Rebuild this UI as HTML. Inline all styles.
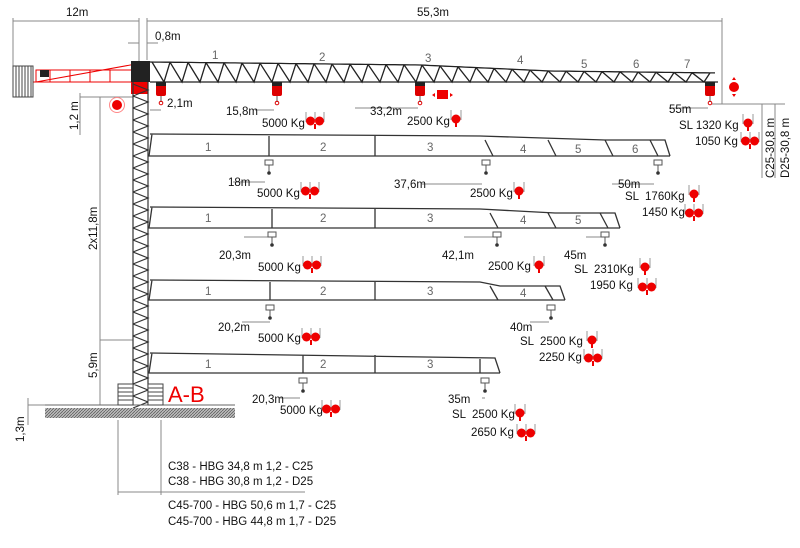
<!DOCTYPE html>
<html><head><meta charset="utf-8"><style>
html,body{margin:0;padding:0;background:#fff;width:800px;height:548px;overflow:hidden}
svg{display:block}
text{font-family:"Liberation Sans",sans-serif;font-size:11.5px;fill:#111}
.g{fill:#666}
</style></head><body>
<svg id="s" width="800" height="548" viewBox="0 0 800 548" xmlns="http://www.w3.org/2000/svg">
<defs>
<pattern id="h" width="3" height="3" patternUnits="userSpaceOnUse"><rect width="3" height="3" fill="#bbb"/><path d="M0 3L3 0" stroke="#555" stroke-width="0.7"/></pattern>
<g id="ld1"><path d="M-5 -8V2M5 -8V2" stroke="#999" fill="none"/><circle cx="0" cy="1" r="4.5" fill="#e00"/><path d="M0 4V9" stroke="#e00" stroke-width="2"/></g>
<g id="ld2"><path d="M-9 -8V2M9 -8V2M0 -8V0" stroke="#999" fill="none"/><circle cx="-4.5" cy="1" r="4.5" fill="#e00"/><circle cx="4.5" cy="1" r="4.5" fill="#e00"/><path d="M0 4V9" stroke="#e00" stroke-width="2"/></g>
<g id="hk"><path d="M-4 0h8v5h-8z M0 5v8" stroke="#555" fill="#fff"/><circle cx="0" cy="13" r="1.8" fill="#333"/></g>
<g id="rk"><rect x="-5" y="0" width="10" height="14" rx="2" fill="#d00"/><rect x="-5" y="0" width="10" height="4" fill="#222"/><path d="M0 14v6" stroke="#555"/><circle cx="0" cy="21" r="1.8" fill="none" stroke="#d00"/></g>
</defs>
<g stroke="#888" stroke-width="1" fill="none">
<path d="M13 21H139M147 21H722M13 18V70M139 18V70M147 18V60M722 18V104"/>
<path d="M128 43H139M147 43H158M712 104H785M762 104V178M775 104V178"/>
<path d="M100 97V405M80 93V135M80 97H133M100 340H133M80 405H118M28 405H45M28 398V425M118 420V495M161 420V495M118 492H305"/>
<path d="M150 110H161M255 110H274M355 108H418M233 182H265M422 184H482M612 184H654M244 237H271M464 237H497M586 237H603M242 322H270M530 322H549M280 398H300M482 398H485"/>
<path d="M669 108H708"/>
</g>
<text x="66" y="16">12m</text><text x="417" y="16">55,3m</text><text x="155" y="40">0,8m</text>
<g id="cj" stroke="#e00" fill="none" stroke-width="1">
<rect x="36" y="70" width="98" height="12"/><path d="M36 82L136 64M50 70v12M70 70v12M90 70v12M110 70v12M30 82H135"/>
</g>
<rect x="13" y="66" width="20" height="31" fill="#fff" stroke="#444"/>
<path d="M16 66v31M19 66v31M22 66v31M25 66v31M28 66v31M31 66v31" stroke="#444"/>
<rect x="40" y="70" width="9" height="7" fill="#222"/>
<rect x="131" y="61" width="19" height="21" fill="#222"/><rect x="131" y="82" width="17" height="12" fill="#e00"/>
<g id="truss" stroke="#222" stroke-width="1.3" fill="none"></g>
<g id="mast" stroke="#333" stroke-width="1.2" fill="none"></g>
<circle cx="117" cy="105" r="5" fill="#e00"/><circle cx="117" cy="105" r="7.5" fill="none" stroke="#f88"/>
<use href="#rk" x="161" y="82"/><use href="#rk" x="277" y="82"/><use href="#rk" x="420" y="82"/><use href="#rk" x="710" y="82"/>
<rect x="437" y="90" width="11" height="9" fill="#e00"/><path d="M432 95l3-2v4zM453 95l-3-2v4z" fill="#e00"/>
<circle cx="734" cy="87" r="5" fill="#e00"/><path d="M734 77l-2 3h4zM734 97l-2-3h4z" fill="#e00"/>
<text x="167" y="107">2,1m</text><text x="226" y="115">15,8m</text><text x="262" y="127">5000 Kg</text><use href="#ld2" x="315" y="120"/>
<text x="370" y="115">33,2m</text><text x="407" y="125">2500 Kg</text><use href="#ld1" x="456" y="118"/>
<text x="669" y="113">55m</text><text x="679" y="129">SL 1320 Kg</text><use href="#ld1" x="748" y="122"/>
<text x="695" y="145">1050 Kg</text><use href="#ld2" x="750" y="140"/>
<text transform="translate(774,178) rotate(-90)">C25-30,8 m</text><text transform="translate(789,178) rotate(-90)">D25-30,8 m</text>
<text transform="translate(78,130) rotate(-90)">1,2 m</text><text transform="translate(97,250) rotate(-90)">2x11,8m</text>
<text transform="translate(97,378) rotate(-90)">5,9m</text><text transform="translate(24,442) rotate(-90)">1,3m</text>
<g id="jibs" stroke="#333" stroke-width="1.3" fill="none"></g>
<g class="g">
<text class="g" x="205" y="151">1</text><text class="g" x="320" y="151">2</text><text class="g" x="427" y="151">3</text><text class="g" x="520" y="153">4</text><text class="g" x="575" y="153">5</text><text class="g" x="632" y="153">6</text>
<text class="g" x="205" y="222">1</text><text class="g" x="320" y="222">2</text><text class="g" x="427" y="222">3</text><text class="g" x="520" y="224">4</text><text class="g" x="575" y="224">5</text>
<text class="g" x="205" y="295">1</text><text class="g" x="320" y="295">2</text><text class="g" x="427" y="295">3</text><text class="g" x="520" y="297">4</text>
<text class="g" x="205" y="368">1</text><text class="g" x="320" y="368">2</text><text class="g" x="427" y="368">3</text>
<text class="g" x="212" y="59">1</text><text class="g" x="319" y="61">2</text><text class="g" x="425" y="62">3</text><text class="g" x="517" y="64">4</text><text class="g" x="581" y="68">5</text><text class="g" x="633" y="68">6</text><text class="g" x="684" y="68">7</text>
</g>
<use href="#hk" x="269" y="160"/><use href="#hk" x="486" y="160"/><use href="#hk" x="658" y="160"/>
<use href="#hk" x="272" y="232"/><use href="#hk" x="497" y="232"/><use href="#hk" x="605" y="232"/>
<use href="#hk" x="270" y="305"/><use href="#hk" x="551" y="305"/>
<use href="#hk" x="303" y="378"/><use href="#hk" x="485" y="378"/>
<text x="228" y="186">18m</text><text x="257" y="197">5000 Kg</text><use href="#ld2" x="310" y="190"/>
<text x="394" y="188">37,6m</text><text x="470" y="197">2500 Kg</text><use href="#ld1" x="519" y="190"/>
<text x="618" y="188">50m</text><text x="625" y="200">SL &#160;1760Kg</text><use href="#ld1" x="694" y="193"/>
<text x="642" y="216">1450 Kg</text><use href="#ld2" x="694" y="212"/>
<text x="219" y="259">20,3m</text><text x="258" y="271">5000 Kg</text><use href="#ld2" x="312" y="264"/>
<text x="442" y="259">42,1m</text><text x="488" y="270">2500 Kg</text><use href="#ld1" x="539" y="264"/>
<text x="564" y="259">45m</text><text x="574" y="273">SL &#160;2310Kg</text><use href="#ld1" x="645" y="266"/>
<text x="590" y="289">1950 Kg</text><use href="#ld2" x="647" y="286"/>
<text x="218" y="331">20,2m</text><text x="258" y="342">5000 Kg</text><use href="#ld2" x="311" y="336"/>
<text x="510" y="331">40m</text><text x="520" y="345">SL &#160;2500 Kg</text><use href="#ld1" x="592" y="339"/>
<text x="539" y="361">2250 Kg</text><use href="#ld2" x="593" y="357"/>
<text x="252" y="403">20,3m</text><text x="280" y="414">5000 Kg</text><use href="#ld2" x="331" y="408"/>
<text x="448" y="403">35m</text><text x="452" y="418">SL &#160;2500 Kg</text><use href="#ld1" x="520" y="412"/>
<text x="471" y="436">2650 Kg</text><use href="#ld2" x="526" y="432"/>
<line x1="45" y1="405" x2="235" y2="405" stroke="#666"/>
<rect x="45" y="408" width="190" height="10" fill="url(#h)"/>
<g stroke="#444" fill="#fff"><rect x="118" y="384" width="15" height="21"/><rect x="148" y="384" width="15" height="21"/><path d="M118 388h15M118 392h15M118 396h15M118 400h15M148 388h15M148 392h15M148 396h15M148 400h15" fill="none"/></g>
<text x="168" y="402" style="font-size:22px;fill:#e00">A-B</text>
<text x="168" y="470">C38 - HBG 34,8 m 1,2 - C25</text>
<text x="168" y="485">C38 - HBG 30,8 m 1,2 - D25</text>
<text x="168" y="509">C45-700 - HBG 50,6 m 1,7 - C25</text>
<text x="168" y="525">C45-700 - HBG 44,8 m 1,7 - D25</text>
</svg>
<script>
var NS="http://www.w3.org/2000/svg";
function P(g,d){var p=document.createElementNS(NS,"path");p.setAttribute("d",d);document.getElementById(g).appendChild(p);}
function ty(x){if(x<420)return 62+(x-150)*3/270;if(x<550)return 65+(x-420)*6/130;return 71+(x-550)*2/170;}
var d="M150 82H718M150 62";for(var x=150;x<=715;x+=5)d+="L"+x+" "+ty(x).toFixed(1);P("truss",d);
var dd="";for(var x=152;x<700;x+=18){dd+="M"+x+" "+ty(x).toFixed(1)+"L"+(x+12)+" 82L"+(x+18)+" "+ty(x+18).toFixed(1);}P("truss",dd);
var m="M133 82V405M148 82V405";for(var y=84;y<400;y+=12){m+="M133 "+y+"L148 "+(y+6)+"L133 "+(y+12);}P("mast",m);
var J=[[134,156,665,[269,375,485,548,605,650]],[207,228,615,[272,375,490,548,600]],[280,300,560,[270,375,490,545]],[353,373,495,[303,375,480]]];
J.forEach(function(j){var t=j[0],b=j[1],e=j[2];var s;
if(e>520){s="M148 "+b+"H"+(e+5)+"M150 "+t+"L480 "+(t+2)+"L"+(e-60)+" "+(t+6)+"L"+e+" "+(t+6)+"L"+(e+5)+" "+b;}
else{s="M148 "+b+"H"+(e+5)+"M150 "+t+"L"+e+" "+(t+5)+"L"+(e+5)+" "+b;}
s+="M152 "+t+"L149 "+b;
j[3].forEach(function(x){var yy=x<480?t+2:t+6;s+="M"+x+" "+yy+"L"+(x+(x>480&&e>520?8:0))+" "+b;});P("jibs",s);});
</script>
</body></html>
